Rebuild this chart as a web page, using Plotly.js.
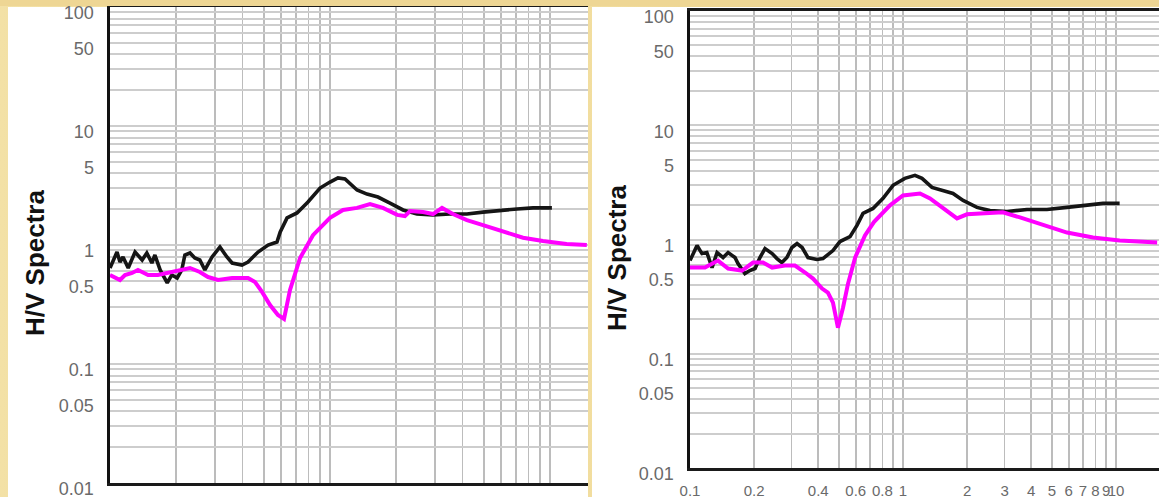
<!DOCTYPE html>
<html>
<head>
<meta charset="utf-8">
<script src="https://cdn.plot.ly/plotly-3.0.1.min.js"></script>
<style>
html,body{margin:0;padding:0;}
body{width:1159px;height:497px;overflow:hidden;
background:linear-gradient(90deg,#f3e1a6 0%,#ecd48f 30%,#f2dea0 50%,#e9cf86 70%,#f1dd9e 100%);}
#chart{width:1159px;height:497px;}
</style>
</head>
<body>
<div id="chart"></div>
<script>
// ---------- Left panel: H/V spectra ----------
const leftFreqBlack = [0.100,0.1076,0.111,0.1146,0.121,0.130,0.140,0.147,0.155,0.160,0.169,0.182,0.191,0.202,0.212,0.219,0.231,0.243,0.256,0.270,0.291,0.316,0.340,0.359,0.398,0.424,0.471,0.523,0.574,0.594,0.638,0.708,0.794,0.901,1.0,1.087,1.170,1.327,1.473,1.652,1.874,2.148,2.485,2.94,3.51,4.19,4.96,6.11,7.08,8.37,10.2];
const leftHVBlack   = [0.641,0.873,0.719,0.793,0.641,0.873,0.748,0.857,0.706,0.824,0.617,0.480,0.560,0.528,0.617,0.824,0.857,0.778,0.748,0.617,0.793,0.962,0.793,0.706,0.679,0.719,0.873,1.0,1.06,1.29,1.69,1.86,2.30,3.01,3.38,3.66,3.59,2.90,2.68,2.53,2.25,1.97,1.82,1.79,1.82,1.82,1.89,1.97,2.01,2.05,2.05];

const leftFreqMagenta = [0.100,0.1054,0.111,0.117,0.126,0.134,0.149,0.165,0.191,0.212,0.231,0.256,0.279,0.310,0.359,0.424,0.456,0.491,0.534,0.580,0.618,0.658,0.731,0.837,1.0,1.146,1.327,1.52,1.74,2.02,2.19,2.31,2.65,2.94,3.23,3.62,4.19,4.96,6.11,7.54,9.29,11.9,14.7];
const leftHVMagenta   = [0.560,0.528,0.508,0.560,0.582,0.617,0.560,0.560,0.593,0.628,0.641,0.593,0.538,0.509,0.528,0.528,0.489,0.403,0.313,0.258,0.239,0.419,0.778,1.21,1.69,1.97,2.05,2.21,2.05,1.79,1.75,1.93,1.89,1.82,2.05,1.82,1.62,1.47,1.29,1.15,1.08,1.02,1.0];

// ---------- Right panel: H/V spectra ----------
const rightFreqBlack = [0.100,0.1079,0.1138,0.120,0.1269,0.134,0.143,0.151,0.1626,0.168,0.181,0.191,0.202,0.213,0.225,0.243,0.256,0.270,0.285,0.301,0.318,0.336,0.358,0.394,0.421,0.469,0.506,0.564,0.608,0.649,0.723,0.806,0.898,1.02,1.138,1.228,1.368,1.541,1.717,1.915,2.225,2.56,3.08,3.82,4.74,5.89,7.31,8.69,10.4];
const rightHVBlack   = [0.654,0.885,0.753,0.769,0.568,0.769,0.695,0.769,0.695,0.615,0.503,0.535,0.557,0.695,0.834,0.753,0.681,0.628,0.695,0.851,0.923,0.851,0.695,0.668,0.681,0.80,0.96,1.06,1.33,1.69,1.87,2.29,2.98,3.43,3.64,3.43,2.86,2.69,2.53,2.20,1.91,1.79,1.76,1.83,1.83,1.91,1.99,2.07,2.07];

const rightFreqMagenta = [0.100,0.1176,0.1353,0.151,0.1755,0.1976,0.220,0.243,0.279,0.311,0.347,0.378,0.417,0.444,0.469,0.495,0.523,0.552,0.596,0.663,0.73,0.869,1.0,1.202,1.339,1.541,1.793,1.997,2.478,2.944,3.54,4.40,5.89,7.80,10.4,15.6];
const rightHVMagenta   = [0.568,0.568,0.654,0.557,0.535,0.628,0.628,0.568,0.592,0.592,0.514,0.455,0.372,0.343,0.280,0.169,0.254,0.411,0.695,1.084,1.42,1.99,2.43,2.53,2.29,1.87,1.53,1.66,1.69,1.73,1.56,1.38,1.15,1.04,0.98,0.942];

// ---------- Axis ticks / grid ----------
const yGridVals = [];
[0.01,0.1,1,10].forEach(d=>{for(let n=1;n<=9;n++) yGridVals.push(+(n*d).toPrecision(3));});
yGridVals.push(100);
const yLabelMap = {"0.01":"0.01","0.05":"0.05","0.1":"0.1","0.5":"0.5","1":"1","5":"5","10":"10","50":"50","100":"100"};
const yGridText = yGridVals.map(v => yLabelMap[String(v)] || "");

const xGridVals = [];
[0.1,1].forEach(d=>{for(let n=1;n<=9;n++) xGridVals.push(+(n*d).toPrecision(3));});
xGridVals.push(10);
const xLabelMap = {"0.1":"0.1","0.2":"0.2","0.4":"0.4","0.6":"0.6","0.8":"0.8","1":"1","2":"2","3":"3","4":"4","5":"5","6":"6","7":"7","8":"8","9":"9","10":"10"};
const xGridText = xGridVals.map(v => xLabelMap[String(v)] || "");

const seriesColorBlack = '#151515';
const seriesColorMagenta = '#ff00ff';

const W = 1159, H = 497;
const px = v => v / W;
const py = v => 1 - v / H;

const traces = [
  {x:leftFreqBlack, y:leftHVBlack, xaxis:'x', yaxis:'y', mode:'lines', line:{color:seriesColorBlack,width:3.6}, hoverinfo:'skip'},
  {x:leftFreqMagenta, y:leftHVMagenta, xaxis:'x', yaxis:'y', mode:'lines', line:{color:seriesColorMagenta,width:4}, hoverinfo:'skip'},
  {x:rightFreqBlack, y:rightHVBlack, xaxis:'x2', yaxis:'y2', mode:'lines', line:{color:seriesColorBlack,width:3.6}, hoverinfo:'skip'},
  {x:rightFreqMagenta, y:rightHVMagenta, xaxis:'x2', yaxis:'y2', mode:'lines', line:{color:seriesColorMagenta,width:4}, hoverinfo:'skip'}
];

const tickFont = {family:'"Liberation Sans", Arial, sans-serif', size:18, color:'#6a6a6a'};
const xTickFont = {family:'"Liberation Sans", Arial, sans-serif', size:15, color:'#6a6a6a'};

function xAxis(domain, range, anchor, showLabels){
  return {type:'log', domain:domain, range:range, anchor:anchor,
    tickmode:'array', tickvals:xGridVals, ticktext:xGridText, ticks:'', tickangle:0,
    showticklabels:showLabels, ticklabeloverflow:'allow',
    showgrid:true, gridcolor:'#bcbcbc', gridwidth:1.6,
    showline:true, linecolor:'#1a1a1a', linewidth:3, mirror:true,
    zeroline:false, automargin:false, tickfont:xTickFont, ticklabelstandoff:7};
}
function yAxis(domain, anchor){
  return {type:'log', domain:domain, range:[-2,2], anchor:anchor,
    tickmode:'array', tickvals:yGridVals, ticktext:yGridText, ticks:'',
    ticklabeloverflow:'allow',
    showgrid:true, gridcolor:'#cdcdcd', gridwidth:2,
    showline:true, linecolor:'#111', linewidth:3.5, mirror:false,
    zeroline:false, automargin:false, tickfont:tickFont, ticklabelstandoff:9, ticklabelshift:6};
}

const layout = {
  width:W, height:H,
  margin:{l:0,r:0,t:0,b:0,pad:0},
  paper_bgcolor:'rgba(0,0,0,0)',
  plot_bgcolor:'#ffffff',
  showlegend:false,
  xaxis: xAxis([px(110), px(588)], [-1, -1 + 478/220], 'y', false),
  yaxis: yAxis([py(483), py(7)], 'x'),
  xaxis2: xAxis([px(690), 1], [-1, -1 + 469/213], 'y2', true),
  yaxis2: yAxis([py(468), py(11)], 'x2'),
  shapes:[
    {type:'rect', xref:'paper', yref:'paper', x0:px(8), x1:px(588), y0:0, y1:py(7), fillcolor:'#ffffff', line:{width:0}, layer:'below'},
    {type:'rect', xref:'paper', yref:'paper', x0:px(592), x1:1, y0:0, y1:py(7), fillcolor:'#ffffff', line:{width:0}, layer:'below'},
    {type:'rect', xref:'paper', yref:'paper', x0:0, x1:1, y0:py(6), y1:1, fillcolor:'#eed694', line:{width:0}, layer:'above'}
  ],
  annotations:[
    {xref:'paper', yref:'paper', x:px(35), y:py(263), text:'H/V Spectra', showarrow:false, textangle:-90,
     font:{family:'"Liberation Sans", Arial, sans-serif', size:26, color:'#111', weight:'bold'}, xanchor:'center', yanchor:'middle'},
    {xref:'paper', yref:'paper', x:px(617), y:py(258), text:'H/V Spectra', showarrow:false, textangle:-90,
     font:{family:'"Liberation Sans", Arial, sans-serif', size:26, color:'#111', weight:'bold'}, xanchor:'center', yanchor:'middle'}
  ]
};

Plotly.newPlot('chart', traces, layout, {displayModeBar:false, staticPlot:true});
</script>
</body>
</html>
